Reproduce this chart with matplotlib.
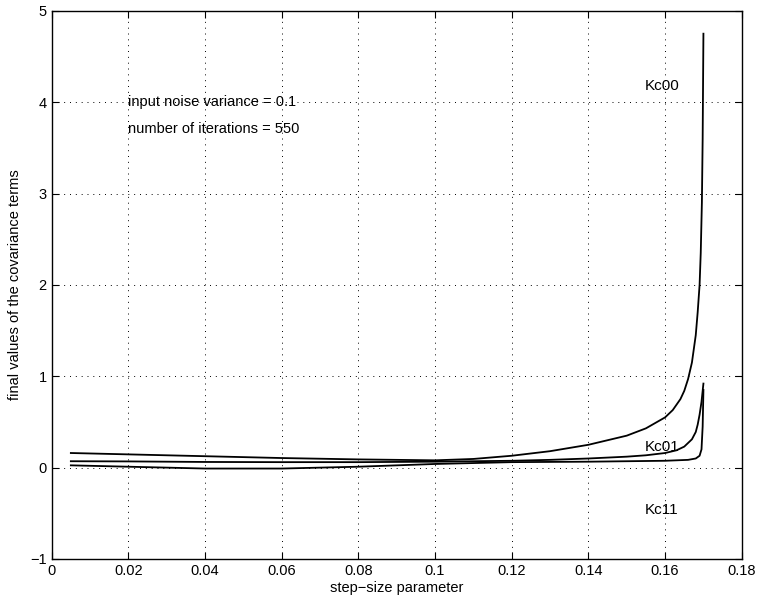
import matplotlib
matplotlib.use("Agg")
import matplotlib.pyplot as plt

# values
mu_00 = [0.005, 0.02, 0.04, 0.06, 0.08, 0.10, 0.11, 0.12, 0.13, 0.14, 0.15, 0.155,
         0.16, 0.162, 0.164, 0.165, 0.166, 0.167, 0.168, 0.1685, 0.169, 0.1693,
         0.1696, 0.1698, 0.170]
kc00 = [0.16, 0.145, 0.125, 0.105, 0.09, 0.08, 0.095, 0.13, 0.18, 0.25, 0.35, 0.43,
        0.55, 0.63, 0.75, 0.84, 0.97, 1.15, 1.45, 1.7, 2.0, 2.35, 2.9, 3.6, 4.75]

mu_01 = [0.005, 0.02, 0.04, 0.06, 0.08, 0.10, 0.12, 0.13, 0.14, 0.15, 0.155, 0.16,
         0.163, 0.165, 0.167, 0.168, 0.1685, 0.169, 0.1695, 0.170]
kc01 = [0.07, 0.068, 0.062, 0.06, 0.06, 0.065, 0.075, 0.085, 0.10, 0.12, 0.135, 0.16,
        0.19, 0.23, 0.31, 0.39, 0.47, 0.58, 0.72, 0.92]

mu_11 = [0.005, 0.02, 0.04, 0.06, 0.08, 0.10, 0.12, 0.14, 0.16, 0.166, 0.168, 0.169,
         0.1695, 0.1698, 0.170]
kc11 = [0.025, 0.01, -0.01, -0.01, 0.01, 0.04, 0.06, 0.065, 0.075, 0.085, 0.10, 0.13,
        0.2, 0.45, 0.85]

x_ticks = [0, 0.02, 0.04, 0.06, 0.08, 0.1, 0.12, 0.14, 0.16, 0.18]
x_ticklabels = ['0', '0.02', '0.04', '0.06', '0.08', '0.1', '0.12', '0.14', '0.16', '0.18']
y_ticks = [-1, 0, 1, 2, 3, 4, 5]

plt.rcParams['font.family'] = ['Liberation Sans', 'DejaVu Sans']

fig = plt.figure(figsize=(7.6, 6.03), dpi=100)
ax = fig.add_axes([0.068, 0.073, 0.908, 0.909])

ax.plot(mu_00, kc00, color='black', linewidth=1.3)
ax.plot(mu_01, kc01, color='black', linewidth=1.3)
ax.plot(mu_11, kc11, color='black', linewidth=1.3)

ax.set_xlim(0, 0.18)
ax.set_ylim(-1, 5)
ax.set_xticks(x_ticks)
ax.set_xticklabels(x_ticklabels)
ax.set_yticks(y_ticks)
ax.tick_params(direction='in', length=5, labelsize=10.5, top=True, right=True,
               labeltop=False, labelright=False)
ax.grid(True, color='black', linestyle=(0, (1, 5)), linewidth=0.7)
for s in ax.spines.values():
    s.set_linewidth(1.0)

ax.set_xlabel('step\u2212size parameter', fontsize=10.5, labelpad=2)
ax.set_ylabel('final values of the covariance terms', fontsize=10.5, labelpad=6)

ax.text(0.02, 4.0, 'input noise variance = 0.1', fontsize=10.5, va='center')
ax.text(0.02, 3.71, 'number of iterations = 550', fontsize=10.5, va='center')
ax.text(0.1547, 4.18, 'Kc00', fontsize=11, va='center')
ax.text(0.1547, 0.23, 'Kc01', fontsize=11, va='center')
ax.text(0.1547, -0.46, 'Kc11', fontsize=11, va='center')

fig.savefig('out.png', dpi=100)
